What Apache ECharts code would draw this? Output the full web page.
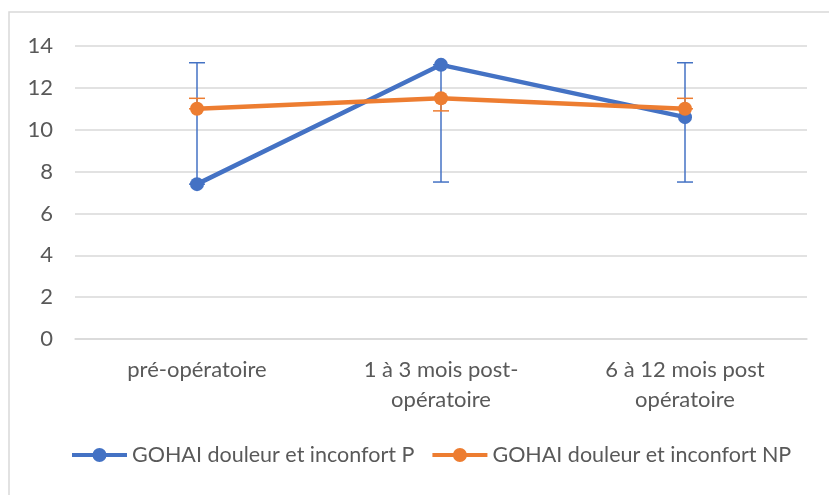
<!DOCTYPE html>
<html>
<head>
<meta charset="utf-8">
<script src="https://cdn.jsdelivr.net/npm/echarts@6/dist/echarts.min.js"></script>
<style>
  html, body { margin: 0; padding: 0; background: #fff; }
  #chart { width: 829px; height: 495px; }
</style>
</head>
<body>
<div id="chart"></div>
<script>
// catégories et valeurs
const categories = ['pré-opératoire', '1 à 3 mois post-\nopératoire', '6 à 12 mois post\nopératoire'];
const seriesNames = ['GOHAI douleur et inconfort P', 'GOHAI douleur et inconfort NP'];
const valuesP = [7.4, 13.1, 10.6];
const valuesNP = [11.0, 11.5, 11.0];
// barres d'erreur (bas / haut)
const errLowP = [7.4, 7.5, 7.5];
const errHighP = [13.2, 13.1, 13.2];
const errLowNP = [11.0, 10.9, 11.0];
const errHighNP = [11.5, 11.5, 11.5];
const yTicks = [0, 2, 4, 6, 8, 10, 12, 14];

const blue = '#4472C4';
const orange = '#ED7D31';
const font = 'Lato, "Open Sans", sans-serif';
// icône de légende : trait épais + rond
const legendIcon = 'path://M0,5 L55,5 L55,9 L0,9 Z M27.5,0 A7,7 0 1,1 27.49,0 Z';

function errorData(low, high) {
    return categories.map((c, i) => [i, low[i], high[i]]);
}

// dessin des barres d'erreur avec le système de coordonnées
function errorBar(color) {
    return function (params, api) {
        const x = api.value(0);
        const lo = api.coord([x, api.value(1)]);
        const hi = api.coord([x, api.value(2)]);
        const half = 8;
        const style = { stroke: color, lineWidth: 1.5 };
        return {
            type: 'group',
            children: [
                { type: 'line', shape: { x1: lo[0], y1: lo[1], x2: hi[0], y2: hi[1] }, style: style },
                { type: 'line', shape: { x1: lo[0] - half, y1: lo[1], x2: lo[0] + half, y2: lo[1] }, style: style },
                { type: 'line', shape: { x1: hi[0] - half, y1: hi[1], x2: hi[0] + half, y2: hi[1] }, style: style }
            ]
        };
    };
}

const chart = echarts.init(document.getElementById('chart'));
chart.setOption({
    animation: false,
    textStyle: { fontFamily: font },
    graphic: [{
        type: 'rect',
        shape: { x: 9, y: 12, width: 840, height: 500 },
        style: { fill: 'none', stroke: '#d9d9d9', lineWidth: 1.5 },
        silent: true
    }],
    grid: { left: 75, right: 22, top: 46, bottom: 156 },
    legend: {
        bottom: 24,
        left: 67,
        itemWidth: 55,
        itemHeight: 14,
        itemGap: 18,
        textStyle: { fontSize: 21.5, color: '#595959', fontFamily: font },
        data: seriesNames.map(n => ({ name: n, icon: legendIcon }))
    },
    xAxis: {
        type: 'category',
        data: categories,
        axisLine: { lineStyle: { color: '#d9d9d9', width: 1.5 } },
        axisTick: { show: false },
        axisLabel: { fontSize: 22, color: '#595959', lineHeight: 30, margin: 16, interval: 0 }
    },
    yAxis: {
        type: 'value',
        min: 0,
        max: 14,
        interval: 2,
        axisLine: { show: false },
        axisTick: { show: false },
        axisLabel: { fontSize: 22, color: '#595959', margin: 22 },
        splitLine: { lineStyle: { color: '#d9d9d9', width: 1.5 } }
    },
    series: [
        {
            type: 'custom',
            renderItem: errorBar(blue),
            data: errorData(errLowP, errHighP),
            z: 1,
            silent: true
        },
        {
            type: 'custom',
            renderItem: errorBar(orange),
            data: errorData(errLowNP, errHighNP),
            z: 1,
            silent: true
        },
        {
            name: seriesNames[0],
            type: 'line',
            data: valuesP,
            symbol: 'circle',
            symbolSize: 14,
            color: blue,
            lineStyle: { width: 4.5, color: blue },
            itemStyle: { color: blue },
            z: 3
        },
        {
            name: seriesNames[1],
            type: 'line',
            data: valuesNP,
            symbol: 'circle',
            symbolSize: 14,
            color: orange,
            lineStyle: { width: 4.5, color: orange },
            itemStyle: { color: orange },
            z: 4
        }
    ]
});
</script>
</body>
</html>
